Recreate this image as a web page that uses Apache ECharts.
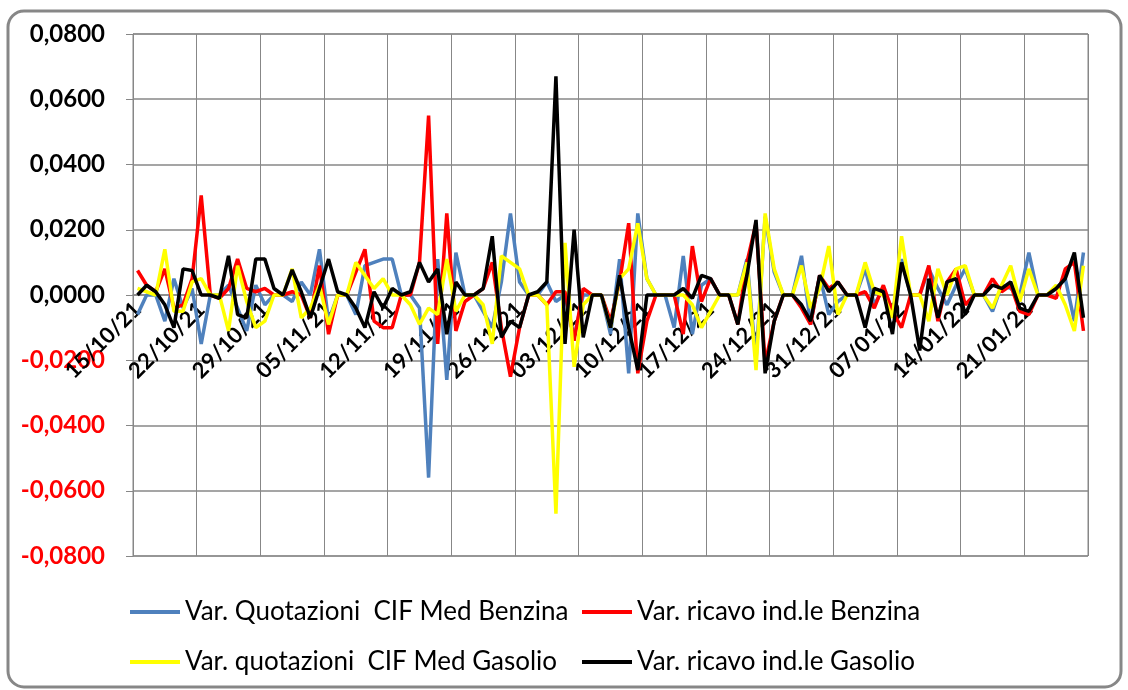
<!DOCTYPE html>
<html>
<head>
<meta charset="utf-8">
<title>Variazioni quotazioni e ricavo</title>
<script src="https://cdn.jsdelivr.net/npm/echarts@6/dist/echarts.min.js"></script>
<style>
  html, body { margin: 0; padding: 0; background: #fff; }
  #chart { width: 1128px; height: 690px; }
</style>
</head>
<body>
<div id="chart"></div>
<script>
// date giornaliere (una riga = una settimana, da venerdi a giovedi)
var giorni = [
  '15/10/21','16/10/21','17/10/21','18/10/21','19/10/21','20/10/21','21/10/21',
  '22/10/21','23/10/21','24/10/21','25/10/21','26/10/21','27/10/21','28/10/21',
  '29/10/21','30/10/21','31/10/21','01/11/21','02/11/21','03/11/21','04/11/21',
  '05/11/21','06/11/21','07/11/21','08/11/21','09/11/21','10/11/21','11/11/21',
  '12/11/21','13/11/21','14/11/21','15/11/21','16/11/21','17/11/21','18/11/21',
  '19/11/21','20/11/21','21/11/21','22/11/21','23/11/21','24/11/21','25/11/21',
  '26/11/21','27/11/21','28/11/21','29/11/21','30/11/21','01/12/21','02/12/21',
  '03/12/21','04/12/21','05/12/21','06/12/21','07/12/21','08/12/21','09/12/21',
  '10/12/21','11/12/21','12/12/21','13/12/21','14/12/21','15/12/21','16/12/21',
  '17/12/21','18/12/21','19/12/21','20/12/21','21/12/21','22/12/21','23/12/21',
  '24/12/21','25/12/21','26/12/21','27/12/21','28/12/21','29/12/21','30/12/21',
  '31/12/21','01/01/22','02/01/22','03/01/22','04/01/22','05/01/22','06/01/22',
  '07/01/22','08/01/22','09/01/22','10/01/22','11/01/22','12/01/22','13/01/22',
  '14/01/22','15/01/22','16/01/22','17/01/22','18/01/22','19/01/22','20/01/22',
  '21/01/22','22/01/22','23/01/22','24/01/22','25/01/22','26/01/22','27/01/22'
];

var quotBenzina = [
  -0.006, 0.000, 0.000, -0.008, 0.005, -0.004, 0.002,
  -0.015, 0.000, 0.000, 0.003, -0.004, -0.011, 0.003,
  -0.003, 0.000, 0.000, -0.002, 0.004, 0.000, 0.014,
  -0.008, 0.000, 0.000, -0.006, 0.009, 0.010, 0.011,
  0.011, 0.000, 0.000, -0.004, -0.056, 0.011, -0.026,
  0.013, 0.000, 0.000, -0.005, -0.010, 0.004, 0.025,
  0.004, 0.000, 0.000, 0.004, -0.002, 0.000, -0.013,
  0.000, 0.000, 0.000, -0.012, 0.011, -0.024, 0.025,
  0.005, 0.000, 0.000, -0.010, 0.012, -0.012, 0.003,
  0.005, 0.000, 0.000, 0.000, 0.011, -0.020, 0.024,
  0.007, 0.000, 0.000, 0.012, -0.009, 0.006, -0.006,
  -0.002, 0.000, 0.000, 0.008, -0.003, 0.002, -0.006,
  0.011, 0.000, 0.000, 0.008, 0.002, -0.003, 0.003,
  0.008, 0.000, 0.000, -0.005, 0.003, 0.002, 0.000,
  0.013, 0.000, 0.000, 0.002, 0.005, -0.008, 0.013
];

var ricavoBenzina = [
  0.0075, 0.003, 0.001, 0.008, -0.004, -0.003, 0.005,
  0.0305, 0.000, -0.001, 0.002, 0.011, 0.002, 0.001,
  0.002, 0.000, 0.000, 0.001, 0.000, -0.007, 0.009,
  -0.012, 0.000, 0.000, 0.007, 0.014, -0.008, -0.010,
  -0.010, 0.000, 0.000, 0.010, 0.055, -0.015, 0.025,
  -0.011, -0.002, 0.000, 0.002, 0.010, -0.010, -0.025,
  -0.010, 0.000, 0.000, -0.003, 0.001, 0.001, -0.014,
  0.002, 0.000, 0.000, -0.008, 0.004, 0.022, -0.024,
  -0.008, 0.000, 0.000, 0.000, -0.012, 0.015, -0.002,
  0.005, 0.000, 0.000, -0.009, 0.010, 0.022, -0.021,
  -0.008, 0.000, 0.000, -0.004, -0.009, 0.006, 0.002,
  0.004, 0.000, 0.000, 0.001, -0.004, 0.003, -0.005,
  -0.010, 0.000, 0.000, 0.009, -0.008, 0.004, 0.008,
  -0.003, 0.000, 0.000, 0.005, 0.001, 0.003, -0.005,
  -0.006, 0.000, 0.000, -0.001, 0.008, 0.010, -0.011
];

var quotGasolio = [
  0.002, 0.001, 0.000, 0.014, -0.005, -0.005, 0.004,
  0.005, 0.000, 0.000, -0.011, 0.009, -0.002, -0.010,
  -0.008, 0.000, 0.000, 0.008, -0.007, -0.004, 0.003,
  -0.009, 0.000, 0.000, 0.010, 0.006, 0.002, 0.005,
  0.000, 0.000, -0.003, -0.009, -0.004, -0.006, 0.011,
  -0.005, 0.000, 0.000, -0.003, -0.015, 0.012, 0.010,
  0.008, 0.000, 0.000, -0.003, -0.067, 0.016, -0.022,
  -0.003, 0.000, 0.000, -0.010, 0.005, 0.008, 0.022,
  0.005, 0.000, 0.000, 0.000, 0.000, -0.003, -0.010,
  -0.005, 0.000, 0.000, 0.000, 0.010, -0.023, 0.025,
  0.008, 0.000, 0.000, 0.009, -0.004, 0.002, 0.015,
  -0.006, 0.000, 0.000, 0.010, 0.001, 0.000, -0.007,
  0.018, 0.000, 0.000, -0.008, 0.008, 0.000, 0.008,
  0.009, 0.000, 0.000, -0.004, 0.003, 0.009, -0.002,
  0.008, 0.000, 0.000, 0.003, -0.003, -0.011, 0.009
];

var ricavoGasolio = [
  0.000, 0.003, 0.001, -0.003, -0.010, 0.008, 0.0075,
  0.000, 0.000, -0.001, 0.012, -0.006, -0.007, 0.011,
  0.011, 0.002, 0.000, 0.0077, 0.001, -0.007, 0.002,
  0.011, 0.001, 0.000, -0.004, -0.010, 0.001, -0.004,
  0.002, 0.000, 0.001, 0.010, 0.004, 0.008, -0.012,
  0.004, 0.000, 0.000, 0.002, 0.018, -0.013, -0.008,
  -0.010, 0.000, 0.001, 0.004, 0.067, -0.015, 0.020,
  -0.013, 0.000, 0.000, -0.010, 0.006, -0.010, -0.023,
  0.000, 0.000, 0.000, 0.000, 0.002, -0.001, 0.006,
  0.005, 0.000, 0.000, -0.009, 0.006, 0.023, -0.024,
  -0.008, 0.000, 0.000, -0.003, -0.008, 0.006, 0.001,
  0.004, 0.000, 0.000, -0.010, 0.002, 0.001, -0.012,
  0.010, 0.000, -0.017, 0.005, -0.007, 0.004, 0.005,
  -0.006, 0.000, 0.000, 0.003, 0.002, 0.004, -0.004,
  -0.005, 0.000, 0.000, 0.002, 0.005, 0.013, -0.007
];

var nomi = [
  'Var. Quotazioni  CIF Med Benzina',
  'Var. ricavo ind.le Benzina',
  'Var. quotazioni  CIF Med Gasolio',
  'Var. ricavo ind.le Gasolio'
];
var colori = ['#4f81bd', '#ff0000', '#ffff00', '#000000'];
var valori = [quotBenzina, ricavoBenzina, quotGasolio, ricavoGasolio];

var grigio = '#878787';
var font = 'Lato, "Open Sans", sans-serif';

// posizione delle quattro voci di legenda (due colonne, due righe)
var posLegenda = [[125, 594], [577, 594], [125, 644], [577, 644]];

var chart = echarts.init(document.getElementById('chart'));

chart.setOption({
  animation: false,
  backgroundColor: '#fff',
  color: colori,
  graphic: [{
    type: 'rect',
    shape: { x: 8, y: 11, width: 1113, height: 676, r: 16 },
    style: { fill: null, stroke: grigio, lineWidth: 3 },
    silent: true
  }],
  grid: {
    left: 133, right: 40, top: 34, bottom: 134,
    show: true, borderColor: grigio, borderWidth: 1
  },
  legend: nomi.map(function (n, i) {
    return {
      left: posLegenda[i][0],
      top: posLegenda[i][1],
      data: [n],
      itemWidth: 50,
      itemHeight: 4,
      icon: 'rect',
      textStyle: { fontFamily: font, fontSize: 26, color: '#000' }
    };
  }),
  xAxis: {
    type: 'category',
    data: giorni,
    boundaryGap: true,
    // l'asse delle date sta sullo zero: spostato in su di meta' area
    axisLine: { onZero: false, lineStyle: { color: grigio, width: 1.5 } },
    offset: -261,
    axisTick: { show: false },
    axisLabel: {
      interval: 6,
      rotate: 45,
      margin: 11,
      fontFamily: font,
      fontWeight: 'bold',
      fontSize: 22,
      color: '#000'
    },
    splitLine: { show: true, interval: 6, lineStyle: { color: grigio, width: 1 } }
  },
  yAxis: {
    type: 'value',
    min: -0.08,
    max: 0.08,
    interval: 0.02,
    axisLine: { show: true, lineStyle: { color: grigio, width: 1 } },
    axisTick: { show: true, length: 7, lineStyle: { color: grigio } },
    axisLabel: {
      margin: 28,
      fontFamily: font,
      fontWeight: 'bold',
      fontSize: 24,
      formatter: function (v) { return v.toFixed(4).replace('.', ','); },
      color: function (v) { return Number(v) < 0 ? '#ff0000' : '#000000'; }
    },
    splitLine: { lineStyle: { color: grigio, width: 1.5 } }
  },
  series: valori.map(function (d, i) {
    return {
      name: nomi[i],
      type: 'line',
      data: d,
      symbol: 'none',
      lineStyle: { width: 3.5, color: colori[i] },
      itemStyle: { color: colori[i] }
    };
  })
});
</script>
</body>
</html>
